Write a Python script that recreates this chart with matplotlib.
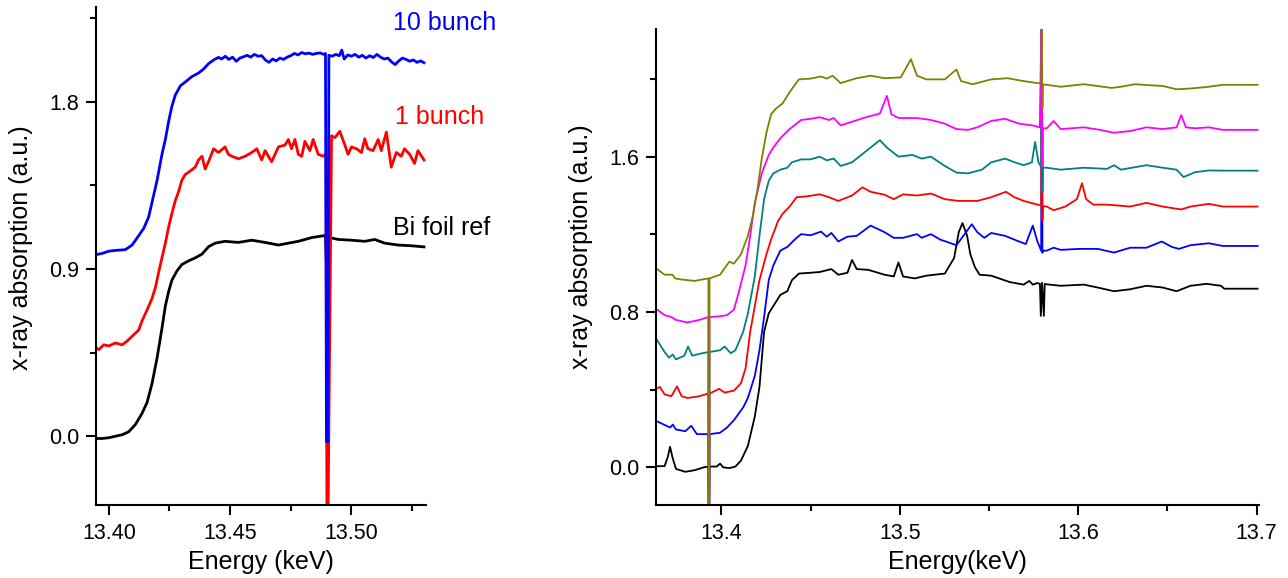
import matplotlib.pyplot as plt
from matplotlib.ticker import MultipleLocator, FormatStrFormatter

plt.rcParams['font.family'] = ['Liberation Sans', 'DejaVu Sans']

# ---------------- left panel: Bi L3 edge, 1 bunch vs 10 bunch ----------------
bi_foil_e = [13.3942, 13.3973, 13.4000, 13.4027, 13.4055, 13.4082, 13.4110, 13.4137,
             13.4158, 13.4178, 13.4199, 13.4219, 13.4233, 13.4247, 13.4260, 13.4281,
             13.4301, 13.4329, 13.4356, 13.4384, 13.4411, 13.4438, 13.4479, 13.4534,
             13.4589, 13.4644, 13.4699, 13.4740, 13.4781, 13.4836, 13.4884, 13.4893,
             13.4898, 13.4905, 13.4911, 13.4945, 13.5000, 13.5055, 13.5096, 13.5137,
             13.5192, 13.5247, 13.5299]
bi_foil_mu = [-0.012, -0.012, -0.008, 0.000, 0.008, 0.024, 0.064, 0.123,
              0.183, 0.283, 0.422, 0.581, 0.701, 0.781, 0.840, 0.890,
              0.924, 0.944, 0.960, 0.980, 1.020, 1.039, 1.049, 1.043,
              1.055, 1.043, 1.029, 1.039, 1.049, 1.069, 1.079, 1.080,
              0.880, 1.075, 1.069, 1.059, 1.055, 1.049, 1.059, 1.039,
              1.029, 1.025, 1.019]

one_bunch_e = [13.3942, 13.3959, 13.3979, 13.4000, 13.4027, 13.4055, 13.4075, 13.4096,
               13.4123, 13.4137, 13.4158, 13.4178, 13.4192, 13.4205, 13.4219, 13.4233,
               13.4247, 13.4260, 13.4274, 13.4288, 13.4301, 13.4315, 13.4336, 13.4356,
               13.4370, 13.4384, 13.4397, 13.4411, 13.4432, 13.4452, 13.4479, 13.4493,
               13.4507, 13.4534, 13.4562, 13.4589, 13.4610, 13.4630, 13.4644, 13.4671,
               13.4699, 13.4726, 13.4740, 13.4753, 13.4767, 13.4781, 13.4795, 13.4808,
               13.4829, 13.4842, 13.4863, 13.4884, 13.4895, 13.4899, 13.4903, 13.4918,
               13.4932, 13.4952, 13.4973, 13.4986, 13.5000, 13.5021, 13.5041, 13.5055,
               13.5068, 13.5089, 13.5110, 13.5123, 13.5144, 13.5164, 13.5185, 13.5205,
               13.5219, 13.5240, 13.5260, 13.5274, 13.5299]
one_bunch_mu = [0.482, 0.466, 0.492, 0.486, 0.502, 0.492, 0.512, 0.538,
                0.571, 0.621, 0.681, 0.741, 0.800, 0.880, 0.960, 1.039,
                1.129, 1.199, 1.268, 1.318, 1.378, 1.408, 1.428, 1.448,
                1.487, 1.507, 1.438, 1.478, 1.547, 1.527, 1.557, 1.517,
                1.507, 1.493, 1.507, 1.527, 1.547, 1.487, 1.537, 1.477,
                1.557, 1.567, 1.597, 1.547, 1.597, 1.517, 1.507, 1.587,
                1.537, 1.597, 1.517, 1.507, 1.520, -0.500, -0.500, 1.617,
                1.607, 1.641, 1.567, 1.517, 1.557, 1.547, 1.527, 1.601,
                1.547, 1.537, 1.597, 1.537, 1.637, 1.448, 1.527, 1.507,
                1.547, 1.517, 1.468, 1.537, 1.487]

ten_bunch_e = [13.3942, 13.3973, 13.4000, 13.4027, 13.4068, 13.4096, 13.4123, 13.4144,
               13.4164, 13.4185, 13.4199, 13.4219, 13.4233, 13.4247, 13.4260, 13.4274,
               13.4295, 13.4315, 13.4342, 13.4370, 13.4390, 13.4411, 13.4432, 13.4452,
               13.4465, 13.4480, 13.4495, 13.4510, 13.4525, 13.4540, 13.4555, 13.4570,
               13.4585, 13.4600, 13.4615, 13.4630, 13.4645, 13.4660, 13.4675, 13.4690,
               13.4705, 13.4720, 13.4735, 13.4750, 13.4765, 13.4780, 13.4795, 13.4810,
               13.4825, 13.4840, 13.4855, 13.4870, 13.4885, 13.4893, 13.4897, 13.4903,
               13.4907, 13.4920, 13.4935, 13.4950, 13.4960, 13.4970, 13.4985, 13.5000,
               13.5015, 13.5030, 13.5045, 13.5060, 13.5075, 13.5090, 13.5105, 13.5120,
               13.5135, 13.5150, 13.5165, 13.5180, 13.5195, 13.5210, 13.5225, 13.5240,
               13.5255, 13.5270, 13.5285, 13.5299]
ten_bunch_mu = [0.976, 0.984, 0.996, 1.000, 1.004, 1.029, 1.079, 1.119,
                1.179, 1.298, 1.378, 1.517, 1.597, 1.697, 1.776, 1.836,
                1.886, 1.906, 1.935, 1.955, 1.975, 2.005, 2.025, 2.039,
                2.030, 2.045, 2.028, 2.040, 2.018, 2.035, 2.042, 2.050,
                2.040, 2.055, 2.045, 2.048, 2.025, 2.012, 2.030, 2.020,
                2.035, 2.028, 2.040, 2.048, 2.060, 2.052, 2.065, 2.058,
                2.062, 2.055, 2.060, 2.063, 2.055, 2.060, -0.030, -0.030,
                2.050, 2.045, 2.055, 2.048, 2.078, 2.030, 2.052, 2.045,
                2.055, 2.040, 2.050, 2.035, 2.048, 2.038, 2.055, 2.040,
                2.030, 2.035, 2.015, 2.000, 2.020, 2.035, 2.028, 2.018,
                2.025, 2.012, 2.020, 2.010]

# ---------------- right panel: stacked spectra ----------------
black_e = [13.3634, 13.3681, 13.3699, 13.3712, 13.3725, 13.3745, 13.3797, 13.3849,
           13.3901, 13.3927, 13.3929, 13.3931, 13.3933, 13.3974, 13.3992, 13.4010,
           13.4044, 13.4078, 13.4109, 13.4148, 13.4187, 13.4213, 13.4239, 13.4265,
           13.4291, 13.4330, 13.4369, 13.4395, 13.4434, 13.4499, 13.4551, 13.4616,
           13.4655, 13.4706, 13.4732, 13.4758, 13.4823, 13.4914, 13.4966, 13.4992,
           13.5018, 13.5083, 13.5148, 13.5252, 13.5304, 13.5330, 13.5351, 13.5377,
           13.5395, 13.5421, 13.5447, 13.5512, 13.5616, 13.5694, 13.5725, 13.5745,
           13.5771, 13.5785, 13.5790, 13.5797, 13.5807, 13.5812, 13.5820, 13.5901,
           13.6031, 13.6109, 13.6200, 13.6291, 13.6382, 13.6473, 13.6551, 13.6629,
           13.6719, 13.6800, 13.6818, 13.7005]
black_mu = [0.006, 0.006, 0.053, 0.106, 0.053, -0.008, -0.023, -0.015,
            0.000, 0.004, -0.300, -0.300, 0.004, 0.004, 0.019, 0.000,
            -0.004, 0.004, 0.034, 0.110, 0.262, 0.414, 0.698, 0.793,
            0.831, 0.888, 0.907, 0.964, 0.998, 1.002, 1.006, 1.021,
            0.992, 1.002, 1.068, 1.021, 1.017, 0.992, 0.983, 1.055,
            0.983, 0.973, 0.987, 0.998, 1.078, 1.211, 1.258, 1.192,
            1.097, 1.030, 0.992, 0.987, 0.954, 0.941, 0.960, 0.941,
            0.949, 0.945, 0.780, 0.950, 0.780, 0.945, 0.943, 0.935,
            0.941, 0.926, 0.907, 0.917, 0.935, 0.926, 0.907, 0.935,
            0.945, 0.935, 0.920, 0.920]

blue_e = [13.3634, 13.3712, 13.3727, 13.3745, 13.3797, 13.3831, 13.3862, 13.3927,
          13.3929, 13.3931, 13.3933, 13.3992, 13.4031, 13.4070, 13.4122, 13.4148,
          13.4187, 13.4213, 13.4239, 13.4265, 13.4291, 13.4330, 13.4369, 13.4421,
          13.4447, 13.4499, 13.4558, 13.4590, 13.4616, 13.4655, 13.4706, 13.4758,
          13.4836, 13.4914, 13.4966, 13.5018, 13.5096, 13.5122, 13.5174, 13.5226,
          13.5317, 13.5356, 13.5403, 13.5434, 13.5473, 13.5512, 13.5590, 13.5668,
          13.5706, 13.5745, 13.5771, 13.5792, 13.5795, 13.5799, 13.5801, 13.5823,
          13.5862, 13.5901, 13.6005, 13.6109, 13.6200, 13.6291, 13.6382, 13.6468,
          13.6525, 13.6564, 13.6629, 13.6732, 13.6810, 13.7005]
blue_mu = [0.239, 0.205, 0.220, 0.195, 0.186, 0.214, 0.171, 0.171,
           -0.300, -0.300, 0.171, 0.178, 0.205, 0.243, 0.309, 0.357,
           0.471, 0.603, 0.774, 0.964, 1.040, 1.116, 1.135, 1.182,
           1.201, 1.195, 1.214, 1.188, 1.207, 1.163, 1.188, 1.192,
           1.245, 1.211, 1.182, 1.182, 1.201, 1.182, 1.201, 1.173,
           1.144, 1.192, 1.252, 1.211, 1.182, 1.207, 1.192, 1.163,
           1.150, 1.245, 1.163, 1.116, 2.400, 1.105, 1.116, 1.116,
           1.131, 1.120, 1.125, 1.125, 1.106, 1.131, 1.131, 1.163,
           1.135, 1.125, 1.144, 1.154, 1.140, 1.140]

red_e = [13.3634, 13.3655, 13.3681, 13.3719, 13.3751, 13.3777, 13.3810, 13.3875,
         13.3927, 13.3929, 13.3931, 13.3933, 13.3987, 13.4018, 13.4070, 13.4109,
         13.4135, 13.4161, 13.4187, 13.4213, 13.4252, 13.4278, 13.4317, 13.4343,
         13.4382, 13.4421, 13.4473, 13.4551, 13.4603, 13.4655, 13.4732, 13.4790,
         13.4836, 13.4914, 13.4966, 13.5018, 13.5096, 13.5174, 13.5252, 13.5330,
         13.5434, 13.5512, 13.5595, 13.5642, 13.5694, 13.5771, 13.5793, 13.5795,
         13.5799, 13.5801, 13.5823, 13.5862, 13.5927, 13.5992, 13.6021, 13.6044,
         13.6083, 13.6161, 13.6291, 13.6382, 13.6473, 13.6577, 13.6629, 13.6732,
         13.6810, 13.7005]
red_mu = [0.404, 0.414, 0.376, 0.366, 0.417, 0.366, 0.357, 0.366,
          0.380, -0.300, -0.300, 0.380, 0.404, 0.385, 0.395, 0.433,
          0.509, 0.698, 0.831, 0.964, 1.097, 1.173, 1.268, 1.306,
          1.343, 1.391, 1.395, 1.406, 1.391, 1.372, 1.400, 1.442,
          1.419, 1.404, 1.381, 1.406, 1.400, 1.410, 1.381, 1.372,
          1.372, 1.391, 1.419, 1.391, 1.372, 1.353, 1.350, 2.400,
          1.270, 1.345, 1.343, 1.324, 1.343, 1.381, 1.463, 1.381,
          1.353, 1.353, 1.343, 1.362, 1.343, 1.328, 1.343, 1.357,
          1.343, 1.343]

teal_e = [13.3634, 13.3681, 13.3706, 13.3727, 13.3745, 13.3792, 13.3813, 13.3836,
          13.3875, 13.3927, 13.3929, 13.3931, 13.3933, 13.3992, 13.4018, 13.4052,
          13.4078, 13.4122, 13.4148, 13.4187, 13.4213, 13.4239, 13.4265, 13.4291,
          13.4330, 13.4369, 13.4395, 13.4447, 13.4499, 13.4551, 13.4590, 13.4629,
          13.4668, 13.4732, 13.4810, 13.4888, 13.4927, 13.4992, 13.5070, 13.5122,
          13.5174, 13.5252, 13.5317, 13.5382, 13.5460, 13.5512, 13.5590, 13.5642,
          13.5694, 13.5740, 13.5758, 13.5777, 13.5793, 13.5795, 13.5799, 13.5801,
          13.5823, 13.5901, 13.6031, 13.6161, 13.6200, 13.6239, 13.6382, 13.6473,
          13.6551, 13.6590, 13.6655, 13.6732, 13.6810, 13.7005]
teal_mu = [0.664, 0.594, 0.565, 0.581, 0.556, 0.575, 0.622, 0.575,
           0.584, 0.594, -0.300, -0.300, 0.594, 0.603, 0.622, 0.588,
           0.603, 0.698, 0.793, 0.983, 1.192, 1.381, 1.476, 1.514,
           1.533, 1.543, 1.571, 1.586, 1.586, 1.600, 1.581, 1.590,
           1.552, 1.571, 1.628, 1.685, 1.647, 1.600, 1.609, 1.590,
           1.600, 1.552, 1.518, 1.514, 1.533, 1.571, 1.590, 1.571,
           1.556, 1.571, 1.676, 1.571, 1.545, 2.400, 1.420, 1.543,
           1.543, 1.533, 1.543, 1.537, 1.556, 1.533, 1.556, 1.543,
           1.533, 1.495, 1.520, 1.529, 1.528, 1.528]

magenta_e = [13.3634, 13.3681, 13.3719, 13.3745, 13.3810, 13.3875, 13.3927, 13.3929,
             13.3931, 13.3933, 13.3992, 13.4031, 13.4070, 13.4096, 13.4135, 13.4161,
             13.4187, 13.4226, 13.4265, 13.4291, 13.4330, 13.4382, 13.4447, 13.4499,
             13.4551, 13.4603, 13.4629, 13.4668, 13.4732, 13.4810, 13.4888, 13.4927,
             13.4953, 13.4992, 13.5096, 13.5174, 13.5252, 13.5317, 13.5382, 13.5434,
             13.5512, 13.5590, 13.5668, 13.5745, 13.5784, 13.5795, 13.5799, 13.5801,
             13.5823, 13.5862, 13.5901, 13.6031, 13.6122, 13.6200, 13.6291, 13.6382,
             13.6473, 13.6551, 13.6577, 13.6603, 13.6655, 13.6732, 13.6810, 13.7005]
magenta_mu = [0.816, 0.784, 0.774, 0.759, 0.746, 0.759, 0.774, -0.300,
              -0.300, 0.774, 0.778, 0.784, 0.812, 0.898, 1.040, 1.192,
              1.362, 1.514, 1.609, 1.647, 1.695, 1.742, 1.789, 1.795,
              1.803, 1.789, 1.799, 1.761, 1.780, 1.803, 1.822, 1.913,
              1.818, 1.799, 1.799, 1.789, 1.770, 1.742, 1.738, 1.751,
              1.784, 1.795, 1.770, 1.761, 1.751, 2.400, 1.550, 1.746,
              1.746, 1.784, 1.742, 1.751, 1.738, 1.723, 1.732, 1.751,
              1.742, 1.751, 1.814, 1.751, 1.746, 1.751, 1.738, 1.738]

olive_e = [13.3634, 13.3681, 13.3725, 13.3740, 13.3771, 13.3849, 13.3927, 13.3929,
           13.3931, 13.3933, 13.3992, 13.4044, 13.4070, 13.4109, 13.4148, 13.4174,
           13.4200, 13.4226, 13.4252, 13.4278, 13.4304, 13.4343, 13.4382, 13.4434,
           13.4499, 13.4558, 13.4590, 13.4623, 13.4668, 13.4758, 13.4836, 13.4914,
           13.5005, 13.5062, 13.5096, 13.5148, 13.5252, 13.5317, 13.5343, 13.5408,
           13.5512, 13.5603, 13.5694, 13.5771, 13.5793, 13.5795, 13.5799, 13.5801,
           13.5823, 13.5901, 13.6031, 13.6187, 13.6239, 13.6317, 13.6473, 13.6551,
           13.6629, 13.6732, 13.6810, 13.7005]
olive_mu = [1.025, 0.992, 0.992, 0.973, 0.968, 0.960, 0.973, -0.300,
            -0.300, 0.973, 0.992, 1.059, 1.049, 1.097, 1.192, 1.287,
            1.419, 1.590, 1.723, 1.818, 1.846, 1.875, 1.932, 1.998,
            2.002, 2.013, 2.002, 2.017, 1.979, 2.004, 2.017, 2.004,
            2.008, 2.102, 2.017, 1.998, 1.998, 2.049, 1.989, 1.973,
            1.998, 2.004, 1.989, 1.979, 1.979, 2.400, 1.850, 1.972,
            1.970, 1.960, 1.973, 1.954, 1.960, 1.973, 1.964, 1.947,
            1.951, 1.960, 1.970, 1.970]

fig = plt.figure(figsize=(12.88, 5.78), dpi=100)
ax1 = fig.add_axes([0.0745, 0.1263, 0.2562, 0.8616])
ax2 = fig.add_axes([0.5093, 0.1263, 0.4682, 0.8227])

# left panel
ax1.plot(bi_foil_e, bi_foil_mu, color='black', lw=2)
ax1.plot(one_bunch_e, one_bunch_mu, color='#ff0000', lw=2)
ax1.plot(ten_bunch_e, ten_bunch_mu, color='#0000ff', lw=2)
ax1.set_xlim(13.3947, 13.5307)
ax1.set_ylim(-0.37, 2.31)
ax1.xaxis.set_major_locator(MultipleLocator(0.05))
ax1.xaxis.set_minor_locator(MultipleLocator(0.025))
ax1.xaxis.set_major_formatter(FormatStrFormatter('%.2f'))
ax1.yaxis.set_major_locator(MultipleLocator(0.9))
ax1.yaxis.set_minor_locator(MultipleLocator(0.45))
ax1.yaxis.set_major_formatter(FormatStrFormatter('%.1f'))
ax1.set_xlabel('Energy (keV)', fontsize=18)
ax1.set_ylabel('x-ray absorption (a.u.)', fontsize=18)
ax1.yaxis.set_label_coords(-0.191, 0.516)
ax1.text(13.517, 2.224, '10 bunch', color='#0000ff', fontsize=18, va='center', ha='left')
ax1.text(13.518, 1.716, '1 bunch', color='#ff0000', fontsize=18, va='center', ha='left')
ax1.text(13.517, 1.121, 'Bi foil ref', color='black', fontsize=18, va='center', ha='left')

# right panel
ax2.plot(black_e, black_mu, color='black', lw=1.3)
ax2.plot(blue_e, blue_mu, color='#0000ff', lw=1.3)
ax2.plot(red_e, red_mu, color='#ff0000', lw=1.3)
ax2.plot(teal_e, teal_mu, color='#008080', lw=1.3)
ax2.plot(magenta_e, magenta_mu, color='#ff00ff', lw=1.3)
ax2.plot(olive_e, olive_mu, color='#808000', lw=1.3)
ax2.set_xlim(13.3633, 13.7013)
ax2.set_ylim(-0.194, 2.255)
ax2.xaxis.set_major_locator(MultipleLocator(0.1))
ax2.xaxis.set_minor_locator(MultipleLocator(0.05))
ax2.xaxis.set_major_formatter(FormatStrFormatter('%.1f'))
ax2.yaxis.set_major_locator(MultipleLocator(0.8))
ax2.yaxis.set_minor_locator(MultipleLocator(0.4))
ax2.yaxis.set_major_formatter(FormatStrFormatter('%.1f'))
ax2.set_xlabel('Energy(keV)', fontsize=18)
ax2.set_ylabel('x-ray absorption (a.u.)', fontsize=18)
ax2.yaxis.set_label_coords(-0.104, 0.543)

for ax in (ax1, ax2):
    for side in ('top', 'right'):
        ax.spines[side].set_visible(False)
    for side in ('left', 'bottom'):
        ax.spines[side].set_linewidth(1.5)
    ax.tick_params(which='major', direction='out', length=7, width=1.5,
                   labelsize=15.5, pad=5)
    ax.tick_params(which='minor', direction='out', length=4, width=1.5)
    ax.tick_params(axis='x', which='major', pad=6)

fig.savefig('out.png', dpi=100)
